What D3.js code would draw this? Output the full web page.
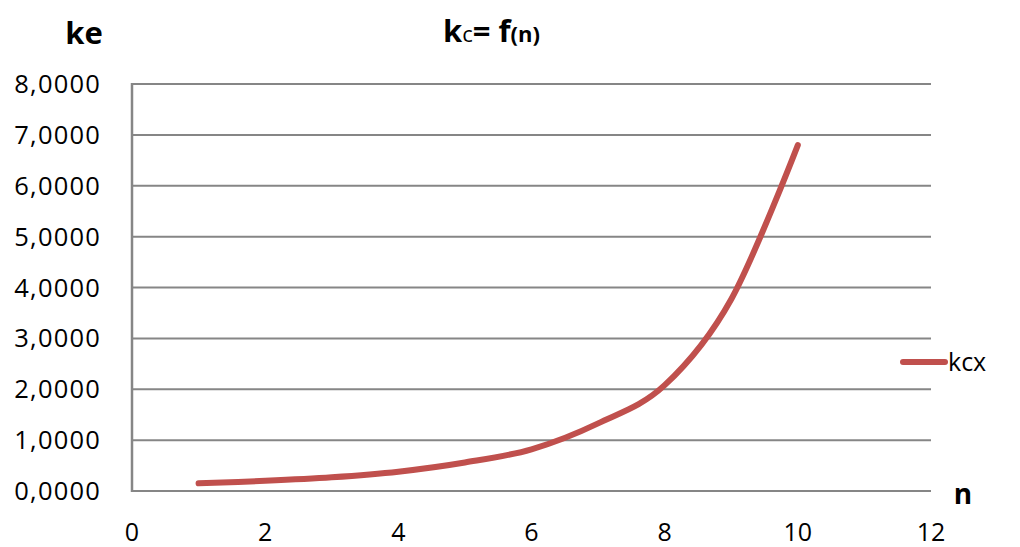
<!DOCTYPE html>
<html><head><meta charset="utf-8">
<script src="https://cdn.jsdelivr.net/npm/d3@7"></script>
<style>body{margin:0;background:#fff;}svg{display:block;font-family:"Open Sans",Lato,sans-serif;}</style>
</head><body>
<svg id="c" width="1020" height="547"></svg>
<script>
const nValues = [1, 2, 3, 4, 5, 6, 7, 8, 9, 10];
const kcxValues = [0.15, 0.20, 0.27, 0.38, 0.56, 0.82, 1.33, 2.08, 3.77, 6.80];
const xTicks = [0, 2, 4, 6, 8, 10, 12];
const yTicks = [0, 1, 2, 3, 4, 5, 6, 7, 8];
const seriesName = "kcx";

const svg = d3.select("#c");
const L = 132, R = 931, T = 84, B = 491;
const x = d3.scaleLinear().domain([0, 12]).range([L, R]);
const y = d3.scaleLinear().domain([0, 8]).range([B, T]);

// gridlines
svg.append("g").selectAll("line").data(yTicks).join("line")
  .attr("x1", L).attr("x2", R)
  .attr("y1", d => y(d)).attr("y2", d => y(d))
  .attr("stroke", "#868686").attr("stroke-width", 2);
// left axis
svg.append("line").attr("x1", L).attr("x2", L).attr("y1", T - 1).attr("y2", B + 1)
  .attr("stroke", "#868686").attr("stroke-width", 2.5);

// y labels
const fmt = d => d3.format(".4f")(d).replace(".", ",");
svg.append("g").selectAll("text").data(yTicks).join("text")
  .attr("x", 101).attr("y", d => y(d) + 9)
  .attr("text-anchor", "end").attr("font-size", 25.5).attr("fill", "#000")
  .attr("letter-spacing", 1.2)
  .text(fmt);
// x labels
svg.append("g").selectAll("text").data(xTicks).join("text")
  .attr("x", d => x(d)).attr("y", 541)
  .attr("text-anchor", "middle").attr("font-size", 25).attr("fill", "#000")
  .text(d => d);

// line
const line = d3.line().x((d, i) => x(nValues[i])).y(d => y(d)).curve(d3.curveCardinal.tension(0));
svg.append("path").datum(kcxValues).attr("d", line)
  .attr("fill", "none").attr("stroke", "#C0504D").attr("stroke-width", 6)
  .attr("stroke-linecap", "round").attr("stroke-linejoin", "round");

// axis titles
svg.append("text").attr("x", 84).attr("y", 44).attr("text-anchor", "middle")
  .attr("font-size", 31).attr("font-weight", "bold").text("ke");
svg.append("text").attr("x", 963).attr("y", 504).attr("text-anchor", "middle")
  .attr("font-size", 28).attr("font-weight", "bold").text("n");

// title
const t = svg.append("text").attr("x", 443).attr("y", 42).attr("font-weight", "bold").attr("font-size", 31);
t.append("tspan").text("k");
t.append("tspan").attr("font-size", 22).attr("font-weight", "normal").text("c");
t.append("tspan").text("= f");
t.append("tspan").attr("font-size", 22).text("(n)");

// legend
svg.append("line").attr("x1", 903).attr("x2", 945).attr("y1", 362).attr("y2", 362)
  .attr("stroke", "#C0504D").attr("stroke-width", 6).attr("stroke-linecap", "round");
svg.append("text").attr("x", 948).attr("y", 371)
  .attr("font-size", 25).text(seriesName);
</script>
</body></html>
